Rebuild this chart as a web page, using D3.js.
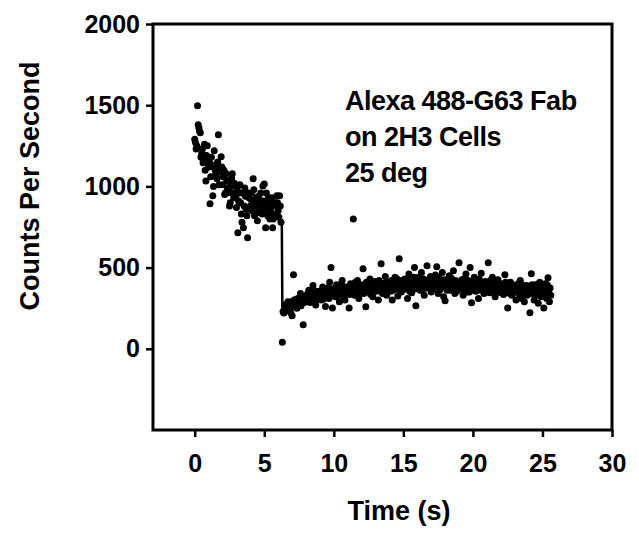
<!DOCTYPE html>
<html>
<head>
<meta charset="utf-8">
<script src="https://cdn.jsdelivr.net/npm/d3@7"></script>
<style>
  html, body { margin: 0; padding: 0; background: #fff; }
  svg { display: block; }
  text { font-family: "Liberation Sans", Arial, sans-serif; font-weight: bold; fill: #000; }
</style>
</head>
<body>
<svg id="chart" width="639" height="533"></svg>
<script>
// ---- data ----
const xTicks = [0, 5, 10, 15, 20, 25, 30];
const yTicks = [0, 500, 1000, 1500, 2000];
const xLabel = "Time (s)";
const yLabel = "Counts Per Second";
const annotation = ["Alexa 488-G63 Fab", "on 2H3 Cells", "25 deg"];

// measured counts before the bleach step: [time (s), counts/s]
const preStep = [
  [0.0,1290],[0.1,1230],[0.2,1496],[0.3,1360],[0.4,1330],[0.5,1200],[0.6,1145],[0.7,1260],[0.8,1034],[0.9,1250],
  [1.0,1120],[1.1,893],[1.2,1180],[1.3,942],[1.4,1219],[1.5,1090],[1.6,1047],[1.7,1318],[1.8,1120],[1.9,1182],
  [2.0,1010],[2.1,1100],[2.2,960],[2.3,1040],[2.4,961],[2.5,880],[2.6,1000],[2.7,1078],[2.8,930],[2.9,1010],
  [3.0,870],[3.1,714],[3.2,960],[3.3,900],[3.4,780],[3.5,745],[3.6,990],[3.7,860],[3.8,684],[3.9,930],
  [4.0,880],[4.1,960],[4.2,1047],[4.3,820],[4.4,900],[4.5,788],[4.6,940],[4.7,860],[4.8,900],[4.9,1003],
  [5.0,1015],[5.1,745],[5.2,870],[5.3,930],[5.4,800],[5.5,880],[5.6,745],[5.7,819],[5.8,900],[5.9,942],
  [6.0,850],[6.1,942],[6.2,780]
];
const preStepB = [
  [0.05,1270],[0.15,1250],[0.25,1380],[0.35,1340],[0.45,1180],[0.55,1230],[0.65,1160],[0.75,1100],[0.85,1190],[0.95,1140],
  [1.05,1150],[1.15,1060],[1.25,1120],[1.35,1000],[1.45,1130],[1.55,1060],[1.65,1150],[1.75,1010],[1.85,1090],[1.95,1120],
  [2.05,1060],[2.15,950],[2.25,1080],[2.35,990],[2.45,1030],[2.55,900],[2.65,1050],[2.75,960],[2.85,1020],[2.95,940],
  [3.05,990],[3.15,910],[3.25,1010],[3.35,830],[3.45,960],[3.55,880],[3.65,940],[3.75,820],[3.85,960],[3.95,860],
  [4.05,920],[4.15,850],[4.25,980],[4.35,880],[4.45,930],[4.55,840],[4.65,900],[4.75,960],[4.85,830],[4.95,910],
  [5.05,870],[5.15,960],[5.25,820],[5.35,900],[5.45,850],[5.55,930],[5.65,800],[5.75,880],[5.85,830],[5.95,900],
  [6.05,810],[6.15,880]
];

// measured counts after the step
const postStep = [
  [6.3,40],[6.4,220],[6.5,265],[6.6,240],[6.7,290],[6.8,255],[6.9,222],
  [7.0,203],[7.1,456],[7.2,300],[7.3,265],[7.4,310],[7.5,280],[7.6,340],[7.7,290],[7.8,148],[7.9,320],
  [8.0,330],[8.1,300],[8.2,360],[8.3,285],[8.4,345],[8.5,390],[8.6,310],[8.7,270],[8.8,355],[8.9,325],
  [9.0,350],[9.1,300],[9.2,380],[9.3,330],[9.4,260],[9.5,365],[9.6,340],[9.7,410],[9.8,500],[9.9,252],
  [10.0,360],[10.1,320],[10.2,395],[10.3,345],[10.4,290],[10.5,380],[10.6,420],[10.7,335],[10.8,300],[10.9,370],
  [11.0,350],[11.1,252],[11.2,400],[11.3,365],[11.4,800],[11.5,330],[11.6,390],[11.7,420],[11.8,310],[11.9,375],
  [12.0,345],[12.1,493],[12.2,380],[12.3,259],[12.4,405],[12.5,350],[12.6,430],[12.7,370],[12.8,320],[12.9,395],
  [13.0,360],[13.1,415],[13.2,300],[13.3,385],[13.4,523],[13.5,340],[13.6,400],[13.7,445],[13.8,330],[13.9,380],
  [14.0,410],[14.1,355],[14.2,300],[14.3,395],[14.4,440],[14.5,370],[14.6,325],[14.7,554],[14.8,390],[14.9,420],
  [15.0,365],[15.1,430],[15.2,400],[15.3,310],[15.4,460],[15.5,380],[15.6,345],[15.7,415],[15.8,500],[15.9,265],
  [16.0,400],[16.1,440],[16.2,360],[16.3,470],[16.4,385],[16.5,330],[16.6,420],[16.7,511],[16.8,375],[16.9,410],
  [17.0,350],[17.1,430],[17.2,395],[17.3,455],[17.4,505],[17.5,340],[17.6,410],[17.7,380],[17.8,470],[17.9,320],
  [18.0,296],[18.1,420],[18.2,390],[18.3,450],[18.4,360],[18.5,415],[18.6,480],[18.7,340],[18.8,400],[18.9,370],
  [19.0,530],[19.1,380],[19.2,425],[19.3,330],[19.4,395],[19.5,460],[19.6,350],[19.7,410],[19.8,500],[19.9,283],
  [20.0,390],[20.1,440],[20.2,355],[20.3,420],[20.4,310],[20.5,400],[20.6,465],[20.7,370],[20.8,340],[20.9,415],
  [21.0,380],[21.1,530],[21.2,345],[21.3,410],[21.4,440],[21.5,360],[21.6,320],[21.7,395],[21.8,425],[21.9,350],
  [22.0,400],[22.1,370],[22.2,335],[22.3,456],[22.4,390],[22.5,252],[22.6,360],[22.7,410],[22.8,330],[22.9,385],
  [23.0,355],[23.1,300],[23.2,395],[23.3,340],[23.4,420],[23.5,310],[23.6,375],[23.7,290],[23.8,360],[23.9,330],
  [24.0,380],[24.1,222],[24.2,462],[24.3,340],[24.4,300],[24.5,395],[24.6,350],[24.7,280],[24.8,410],[24.9,320],
  [25.0,360],[25.1,252],[25.2,400],[25.3,310],[25.4,437],[25.5,290],[25.6,330]
];
const postStepB = [
  [6.35,230],[6.45,270],[6.55,235],[6.65,260],[6.75,280],[6.85,245],[6.95,290],
  [7.05,260],[7.15,300],[7.25,275],[7.35,250],[7.45,305],[7.55,290],[7.65,265],[7.75,320],[7.85,285],[7.95,300],
  [8.05,290],[8.15,340],[8.25,310],[8.35,335],[8.45,295],[8.55,350],[8.65,320],[8.75,300],[8.85,345],[8.95,315],
  [9.05,330],[9.15,360],[9.25,305],[9.35,350],[9.45,325],[9.55,375],[9.65,310],[9.75,345],[9.85,370],[9.95,330],
  [10.05,345],[10.15,375],[10.25,320],[10.35,365],[10.45,340],[10.55,395],[10.65,350],[10.75,315],[10.85,380],[10.95,355],
  [11.05,370],[11.15,335],[11.25,390],[11.35,345],[11.45,375],[11.55,410],[11.65,350],[11.75,330],[11.85,385],[11.95,360],
  [12.05,395],[12.15,340],[12.25,375],[12.35,410],[12.45,360],[12.55,390],[12.65,335],[12.75,400],[12.85,370],[12.95,415],
  [13.05,355],[13.15,390],[13.25,420],[13.35,365],[13.45,400],[13.55,345],[13.65,385],[13.75,410],[13.85,370],[13.95,395],
  [14.05,375],[14.15,420],[14.25,360],[14.35,400],[14.45,385],[14.55,430],[14.65,365],[14.75,405],[14.85,350],[14.95,395],
  [15.05,415],[15.15,370],[15.25,430],[15.35,385],[15.45,355],[15.55,410],[15.65,395],[15.75,440],[15.85,370],[15.95,405],
  [16.05,380],[16.15,415],[16.25,395],[16.35,360],[16.45,430],[16.55,400],[16.65,375],[16.75,420],[16.85,390],[16.95,445],
  [17.05,410],[17.15,370],[17.25,425],[17.35,385],[17.45,400],[17.55,440],[17.65,365],[17.75,405],[17.85,385],[17.95,425],
  [18.05,395],[18.15,360],[18.25,415],[18.35,380],[18.45,435],[18.55,390],[18.65,370],[18.75,420],[18.85,355],[18.95,405],
  [19.05,385],[19.15,410],[19.25,365],[19.35,430],[19.45,390],[19.55,375],[19.65,420],[19.75,350],[19.85,400],[19.95,380],
  [20.05,415],[20.15,370],[20.25,400],[20.35,385],[20.45,430],[20.55,360],[20.65,395],[20.75,410],[20.85,375],[20.95,350],
  [21.05,405],[21.15,385],[21.25,420],[21.35,365],[21.45,390],[21.55,410],[21.65,355],[21.75,380],[21.85,400],[21.95,370],
  [22.05,345],[22.15,395],[22.25,375],[22.35,410],[22.45,360],[22.55,385],[22.65,340],[22.75,370],[22.85,395],[22.95,350],
  [23.05,380],[23.15,360],[23.25,400],[23.35,335],[23.45,375],[23.55,395],[23.65,345],[23.75,365],[23.85,390],[23.95,350],
  [24.05,370],[24.15,340],[24.25,395],[24.35,360],[24.45,380],[24.55,330],[24.65,375],[24.75,400],[24.85,345],[24.95,365],
  [25.05,385],[25.15,340],[25.25,370],[25.35,395],[25.45,350],[25.55,375]
];

// fitted curve
const fitCurve = [
  [0,1281],[1,1170],[2,1075],[3,990],[4,915],[5,850],[6.26,788],
  [6.3,240],[7,275],[8,312],[9,338],[10,356],[11,368],[12,378],[13,386],[14,393],[15,398],
  [16,400],[17,400],[18,398],[19,395],[20,392],[21,388],[22,383],[23,378],[24,374],[25,370],[25.6,368]
];

// ---- layout ----
const svg = d3.select("#chart");
const plot = { left: 153, right: 612, top: 24, bottom: 430 };
const x = d3.scaleLinear().domain([-3, 30]).range([plot.left, plot.right]);
const y = d3.scaleLinear().domain([-500, 2000]).range([plot.bottom, plot.top]);

// axes (ticks only; frame drawn separately)
const xAxis = svg.append("g")
  .attr("transform", `translate(0,${plot.bottom})`)
  .call(d3.axisBottom(x).tickValues(xTicks).tickSize(7).tickPadding(17).tickFormat(d3.format("d")));
const yAxis = svg.append("g")
  .attr("transform", `translate(${plot.left},0)`)
  .call(d3.axisLeft(y).tickValues(yTicks).tickSize(7).tickPadding(6).tickFormat(d3.format("d")));
[xAxis, yAxis].forEach(g => {
  g.select(".domain").remove();
  g.selectAll(".tick line").attr("stroke", "#000").attr("stroke-width", 2.5);
  g.selectAll(".tick text").style("font-size", "25px").style("font-family", "'Liberation Sans', Arial, sans-serif").style("font-weight", "bold").attr("fill", "#000");
});

// frame
svg.append("rect")
  .attr("x", plot.left).attr("y", plot.top)
  .attr("width", plot.right - plot.left).attr("height", plot.bottom - plot.top)
  .attr("fill", "none").attr("stroke", "#000").attr("stroke-width", 3);

// points
const allPoints = preStep.concat(preStepB, postStep, postStepB);
svg.append("g").selectAll("circle")
  .data(allPoints).join("circle")
  .attr("cx", d => x(d[0])).attr("cy", d => y(d[1]))
  .attr("r", 3.5).attr("fill", "#000");

// fit line
svg.append("path")
  .datum(fitCurve)
  .attr("fill", "none").attr("stroke", "#000").attr("stroke-width", 2.5)
  .attr("d", d3.line().x(d => x(d[0])).y(d => y(d[1])));

// axis titles
svg.append("text")
  .attr("x", 399).attr("y", 520)
  .attr("text-anchor", "middle").style("font-size", "27px")
  .text(xLabel);
svg.append("text")
  .attr("transform", `translate(39,186) rotate(-90)`)
  .attr("text-anchor", "middle").style("font-size", "27px")
  .text(yLabel);

// annotation
const ann = svg.append("text").style("font-size", "27px").style("letter-spacing", "-0.5px");
annotation.forEach((line, i) => {
  ann.append("tspan").attr("x", 345).attr("y", 110 + i * 36).text(line);
});
</script>
</body>
</html>
